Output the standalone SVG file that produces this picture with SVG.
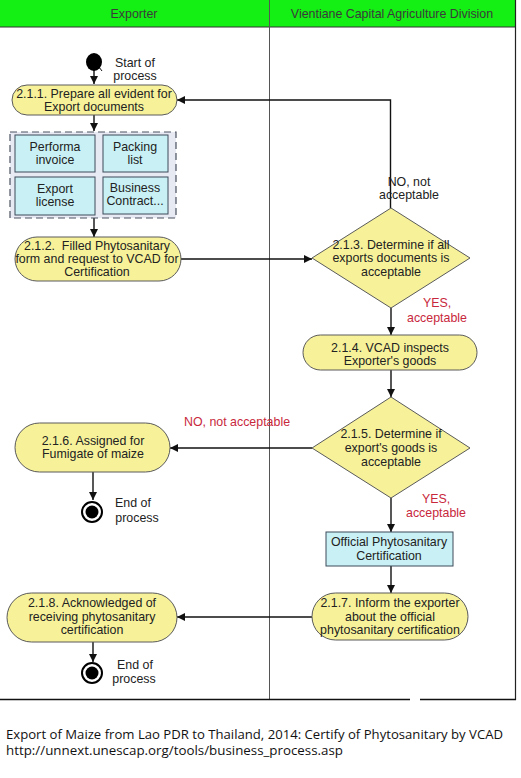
<svg xmlns="http://www.w3.org/2000/svg" width="521" height="778" viewBox="0 0 521 778">
<defs>
<marker id="ah" viewBox="0 0 10 10" refX="10" refY="5" markerWidth="8" markerHeight="8" markerUnits="userSpaceOnUse" orient="auto">
<path d="M0,0 L10,5 L0,10 z" fill="#111"/>
</marker>
</defs>
<style>
.t{font-family:"Liberation Sans",Arial,sans-serif;font-size:12.4px;fill:#222;text-anchor:middle}
.h{font-family:"Liberation Sans",Arial,sans-serif;font-size:12.4px;fill:#3a3a3a;text-anchor:middle}
.r{font-family:"Liberation Sans",Arial,sans-serif;font-size:12.4px;fill:#c8283c;text-anchor:middle}
.cap{font-family:"Open Sans","Liberation Sans",sans-serif;font-size:12.5px;fill:#111}
.act{fill:#f7f29a;stroke:#5a5a5a;stroke-width:1}
.doc{fill:#c9f1f5;stroke:#3e4a5a;stroke-width:1}
.c{fill:none;stroke:#111;stroke-width:1.4}
</style>
<rect x="0" y="0" width="521" height="778" fill="#fff"/>
<g id="lanes">
<rect x="0" y="0" width="515" height="27" fill="#14ef14"/>
<line x1="0" y1="27" x2="515" y2="27" stroke="#333" stroke-width="1"/>
<line x1="269.5" y1="0" x2="269.5" y2="699" stroke="#555" stroke-width="1"/>
<line x1="515.5" y1="0" x2="515.5" y2="700" stroke="#222" stroke-width="1.2"/>
<line x1="0" y1="699.5" x2="410" y2="699.5" stroke="#111" stroke-width="1.5"/>
<line x1="420" y1="699.5" x2="516" y2="699.5" stroke="#111" stroke-width="1.5"/>
<text class="h" x="134" y="18">Exporter</text>
<text class="h" x="392" y="18">Vientiane Capital Agriculture Division</text>
</g>
<g id="connectors">
<line class="c" x1="94" y1="68" x2="94" y2="84" marker-end="url(#ah)"/>
<line x1="99" y1="67" x2="102" y2="71" stroke="#111" stroke-width="1"/>
<line class="c" x1="94" y1="115" x2="94" y2="131" marker-end="url(#ah)"/>
<line class="c" x1="94" y1="218" x2="94" y2="237" marker-end="url(#ah)"/>
<line class="c" x1="181" y1="259" x2="312" y2="259" marker-end="url(#ah)"/>
<polyline class="c" points="390.5,208 390.5,100 177,100" marker-end="url(#ah)"/>
<line class="c" x1="391" y1="308" x2="391" y2="335" marker-end="url(#ah)"/>
<line class="c" x1="391" y1="370" x2="391" y2="397" marker-end="url(#ah)"/>
<line class="c" x1="312" y1="448" x2="170" y2="448" marker-end="url(#ah)"/>
<line class="c" x1="93" y1="472" x2="93" y2="500" marker-end="url(#ah)"/>
<line class="c" x1="391" y1="498" x2="391" y2="532" marker-end="url(#ah)"/>
<line class="c" x1="391" y1="566" x2="391" y2="593" marker-end="url(#ah)"/>
<line class="c" x1="312" y1="617" x2="177" y2="617" marker-end="url(#ah)"/>
<line class="c" x1="93" y1="642" x2="93" y2="662" marker-end="url(#ah)"/>
<text class="t" x="409" y="186">NO, not</text>
<text class="t" x="409" y="199">acceptable</text>
<text class="r" x="437" y="307">YES,</text>
<text class="r" x="437" y="322">acceptable</text>
<text class="r" x="237" y="426">NO, not acceptable</text>
<text class="r" x="436" y="503">YES,</text>
<text class="r" x="436" y="517">acceptable</text>
</g>
<g id="start">
<ellipse cx="94" cy="62" rx="8" ry="9" fill="#000"/>
<text class="t" x="135" y="67">Start of</text>
<text class="t" x="135" y="80">process</text>
</g>
<g id="n211">
<rect class="act" x="12" y="85" width="165" height="30" rx="15"/>
<text class="t" x="94" y="98">2.1.1. Prepare all evident for</text>
<text class="t" x="94" y="111">Export documents</text>
</g>
<g id="docs">
<rect x="10" y="132" width="166" height="86" fill="#e7e9f3" stroke="#4a5260" stroke-width="1.2" stroke-dasharray="7,4"/>
<rect class="doc" x="15" y="135" width="80" height="37"/>
<text class="t" x="55" y="151">Performa</text>
<text class="t" x="55" y="164">invoice</text>
<rect class="doc" x="103" y="135" width="65" height="37"/>
<text class="t" x="135" y="151">Packing</text>
<text class="t" x="135" y="164">list</text>
<rect class="doc" x="15" y="177" width="80" height="38"/>
<text class="t" x="55" y="193">Export</text>
<text class="t" x="55" y="206">license</text>
<rect class="doc" x="103" y="177" width="65" height="37"/>
<text class="t" x="135" y="192">Business</text>
<text class="t" x="135" y="205">Contract...</text>
</g>
<g id="n212">
<rect class="act" x="15" y="237" width="166" height="44" rx="22"/>
<text class="t" x="97" y="250" xml:space="preserve">2.1.2.  Filled Phytosanitary</text>
<text class="t" x="97" y="263">form and request to VCAD for</text>
<text class="t" x="97" y="276">Certification</text>
</g>
<g id="n213">
<polygon class="act" points="391,208 470,258 391,308 312,258"/>
<text class="t" x="391" y="249">2.1.3. Determine if all</text>
<text class="t" x="391" y="262">exports documents is</text>
<text class="t" x="391" y="276">acceptable</text>
</g>
<g id="n214">
<rect class="act" x="303" y="335" width="174" height="35" rx="17.5"/>
<text class="t" x="390" y="352">2.1.4. VCAD inspects</text>
<text class="t" x="390" y="365">Exporter's goods</text>
</g>
<g id="n215">
<polygon class="act" points="391,397 470,448 391,498 312,448"/>
<text class="t" x="391" y="438">2.1.5. Determine if</text>
<text class="t" x="391" y="452">export's goods is</text>
<text class="t" x="391" y="466">acceptable</text>
</g>
<g id="n216">
<rect class="act" x="15" y="423" width="155" height="49" rx="24.5"/>
<text class="t" x="93" y="445">2.1.6. Assigned for</text>
<text class="t" x="93" y="458">Fumigate of maize</text>
</g>
<g id="end1">
<circle cx="92" cy="512" r="10" fill="#fff" stroke="#000" stroke-width="2"/>
<circle cx="92" cy="512" r="6.5" fill="#000"/>
<text class="t" x="133" y="507">End of</text>
<text class="t" x="137" y="522">process</text>
</g>
<g id="cert">
<rect class="doc" x="326" y="532" width="127" height="34"/>
<text class="t" x="389" y="546">Official Phytosanitary</text>
<text class="t" x="389" y="560">Certification</text>
</g>
<g id="n217">
<rect class="act" x="312" y="593" width="156" height="47" rx="23.5"/>
<text class="t" x="390" y="607">2.1.7. Inform the exporter</text>
<text class="t" x="390" y="621">about the official</text>
<text class="t" x="390" y="634">phytosanitary certification</text>
</g>
<g id="n218">
<rect class="act" x="7" y="593" width="170" height="49" rx="24.5"/>
<text class="t" x="92" y="607">2.1.8. Acknowledged of</text>
<text class="t" x="92" y="621">receiving phytosanitary</text>
<text class="t" x="92" y="634">certification</text>
</g>
<g id="end2">
<circle cx="92" cy="673" r="10" fill="#fff" stroke="#000" stroke-width="2"/>
<circle cx="92" cy="673" r="6.5" fill="#000"/>
<text class="t" x="135" y="669">End of</text>
<text class="t" x="134" y="683">process</text>
</g>
<g id="caption">
<text class="cap" x="6" y="739" textLength="497" lengthAdjust="spacingAndGlyphs">Export of Maize from Lao PDR to Thailand, 2014: Certify of Phytosanitary by VCAD</text>
<text class="cap" x="6" y="755" textLength="337" lengthAdjust="spacingAndGlyphs">http://unnext.unescap.org/tools/business_process.asp</text>
</g>
</svg>
